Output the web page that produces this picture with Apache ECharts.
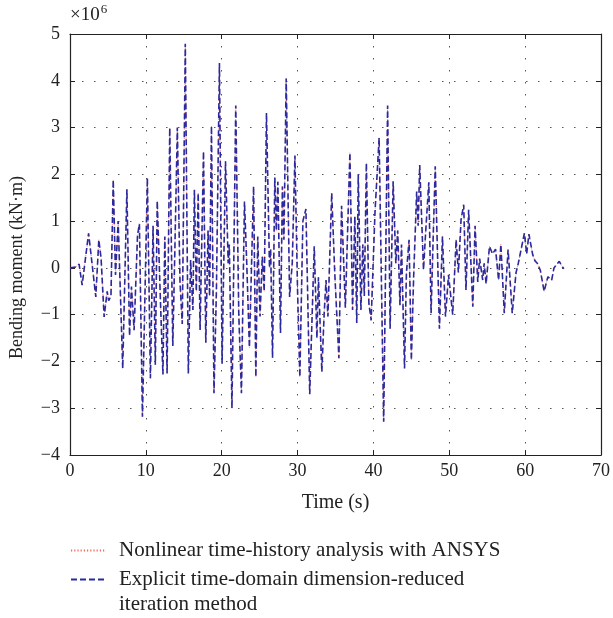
<!DOCTYPE html>
<html>
<head>
<meta charset="utf-8">
<script src="https://cdn.jsdelivr.net/npm/echarts@6/dist/echarts.min.js"></script>
<style>html,body{margin:0;padding:0;background:#fff}#c{width:613px;height:618px}</style>
</head>
<body>
<div id="c"></div>
<script>
// time (s)
var times = [0,0.8,1.2,1.6,2.45,2.9,3.4,3.8,4.1,4.5,4.9,5.1,5.4,5.7,6.0,6.35,6.95,7.5,7.85,8.1,8.45,8.9,9.15,9.55,
10.2,10.6,10.95,11.25,11.5,11.9,12.25,12.5,12.8,13.15,13.55,13.8,14.15,14.5,14.8,15.2,15.6,15.9,16.2,16.4,16.65,16.9,17.15,17.6,17.9,18.2,18.4,18.65,18.98,19.3,19.7,
20.05,20.5,20.85,21.0,21.35,21.85,22.25,22.6,23.0,23.3,23.65,24.2,24.5,24.75,25.05,25.35,25.6,25.9,26.3,26.45,26.7,27.0,27.2,27.4,27.75,28.0,28.2,28.5,28.95,29.3,29.65,
30.0,30.3,30.7,31.1,31.6,32.2,32.55,32.75,33.2,33.5,33.75,34.0,34.5,34.9,35.45,35.8,36.3,36.9,37.25,37.55,37.8,38.0,38.35,38.6,38.8,39.07,39.4,39.7,
40.2,40.75,41.35,41.87,42.2,42.6,42.95,43.2,43.5,43.7,44.1,44.35,44.7,45.0,45.3,45.7,45.9,46.1,46.6,46.9,47.3,47.6,47.85,48.15,48.7,49.1,49.5,49.9,
50.45,50.9,51.2,51.55,51.9,52.2,52.55,53.1,53.4,53.75,54.0,54.4,54.6,54.85,55.3,55.7,56.1,56.5,56.8,57.25,57.75,58.3,58.8,59.1,59.9,
60.2,60.5,61.0,61.3,61.6,62.0,62.5,63.0,63.5,63.8,64.5,64.8,65.1];
// bending moment (x10^6 kN·m), explicit time-domain dimension-reduced iteration method
var explicitVals = [0,0.02,0.08,-0.37,0.74,0.1,-0.62,0.6,0.2,-1.05,-0.5,-0.7,-0.6,1.88,-0.15,1.0,-2.15,1.68,-1.45,-0.4,-1.33,0.7,0.94,-3.18,
1.92,-2.36,0.9,-2.07,1.43,-0.6,-2.28,0.67,-2.26,2.99,-1.67,0.2,3.0,-0.3,-1.2,4.79,-2.26,0.17,-0.9,1.67,-0.5,1.6,-1.33,2.49,-1.6,0.8,-0.6,3.03,-2.68,-0.5,4.38,
-2.05,2.28,0.1,0.5,-3.0,3.47,-1.0,-2.68,1.42,0.1,-1.7,1.74,-2.33,0.67,-1.04,0.24,-0.5,3.31,0.0,0.4,-1.92,1.93,0.8,1.84,-1.39,1.74,0.6,4.05,-0.62,0.1,2.4,
-0.5,-2.33,1.0,1.26,-2.7,0.46,-1.5,-0.2,-2.22,-1.0,-0.26,-1.04,1.6,-0.1,-1.93,1.33,-0.85,2.46,-0.9,1.1,-1.18,2.0,-0.9,0.5,-0.6,2.24,-0.76,-1.12,
1.17,2.78,-3.29,3.47,-1.3,1.85,0.1,0.8,-0.8,0.5,-2.15,-0.1,0.6,-1.97,-0.2,1.63,0.9,2.2,-0.04,0.8,1.83,-0.97,0.5,2.17,-1.3,0.67,-1.04,-0.15,
-1.0,0.6,-0.1,1.03,1.35,-0.47,1.24,-0.83,0.9,-0.3,0.2,-0.26,0.1,-0.34,0.46,0.3,0.4,-0.26,0.5,-0.97,0.39,-0.97,-0.1,0.1,0.74,
0.3,0.72,0.28,0.15,0.1,-0.05,-0.5,-0.19,-0.26,0.0,0.14,0.05,-0.02];
// nonlinear time-history analysis with ANSYS (visually identical to the explicit method)
var ansysVals = explicitVals.slice();

var xTicks = [0,10,20,30,40,50,60,70];
var yTicks = [-4,-3,-2,-1,0,1,2,3,4,5];
var nameAnsys = 'Nonlinear time-history analysis with ANSYS';
var nameExplicit = 'Explicit time-domain dimension-reduced\niteration method';

var serif = '"Liberation Serif","DejaVu Serif",serif';
function pairs(v){ return times.map(function(t,i){ return [t, v[i]]; }); }

var chart = echarts.init(document.getElementById('c'), null, {renderer:'canvas'});
var axisLine = {show:true, onZero:false, lineStyle:{color:'#222', width:1.2}};
var tick = {inside:true, length:5, lineStyle:{color:'#222'}};
var dotted = {show:true, lineStyle:{color:'#555', width:1, type:[1.5,10.5]}};
var xMin = xTicks[0], xMax = xTicks[xTicks.length-1], yMin = yTicks[0], yMax = yTicks[yTicks.length-1];
var legendBase = {
  orient:'vertical', left:65, itemWidth:35, itemHeight:12,
  itemStyle:{opacity:0}, selectedMode:false
};
chart.setOption({
  animation:false,
  grid:{left:70, right:10, top:34, bottom:163},
  xAxis:[{
    type:'value', min:xMin, max:xMax, interval:10,
    name:'Time (s)', nameLocation:'middle', nameGap:38,
    nameTextStyle:{fontFamily:serif, fontSize:20, color:'#222'},
    axisLine:axisLine, axisTick:tick,
    axisLabel:{fontFamily:serif, fontSize:18, color:'#222', margin:7},
    splitLine:dotted
  },{
    type:'value', position:'top', min:xMin, max:xMax, interval:10,
    axisLine:axisLine, axisTick:tick, axisLabel:{show:false}, splitLine:{show:false}
  }],
  yAxis:[{
    type:'value', min:yMin, max:yMax, interval:1,
    name:'Bending moment (kN·m)', nameLocation:'middle', nameGap:44,
    nameTextStyle:{fontFamily:serif, fontSize:18, color:'#222', padding:[0,46,0,0]},
    axisLine:axisLine, axisTick:tick,
    axisLabel:{fontFamily:serif, fontSize:18, color:'#222', margin:10,
      formatter:function(v){ return String(v).replace('-', '\u2212'); }},
    splitLine:dotted
  },{
    type:'value', position:'right', min:yMin, max:yMax, interval:1,
    axisLine:axisLine, axisTick:tick, axisLabel:{show:false}, splitLine:{show:false}
  }],
  legend:[
    Object.assign({}, legendBase, {top:533, data:[nameAnsys],
      textStyle:{fontFamily:serif, fontSize:21, color:'#222', lineHeight:25, padding:[0,0,0,8]}}),
    Object.assign({}, legendBase, {top:537, data:[nameExplicit],
      formatter:function(n){ return '\n' + n; },
      textStyle:{fontFamily:serif, fontSize:21, color:'#222', lineHeight:25, padding:[0,0,0,8]}})
  ],
  graphic:[{
    type:'text', left:70, top:3,
    style:{text:'×10{s|6}', fontFamily:serif, fontSize:19, fill:'#222',
      rich:{s:{fontFamily:serif, fontSize:13, fill:'#222', verticalAlign:'top', padding:[0,0,12,1]}}}
  }],
  series:[{
    name:nameAnsys, type:'line', data:pairs(ansysVals),
    showSymbol:false, symbol:'none', xAxisIndex:0, yAxisIndex:0,
    lineStyle:{color:'#f06a5a', width:0.8, type:[1.2,2]}, itemStyle:{color:'#f06a5a'}
  },{
    name:nameExplicit, type:'line', data:pairs(explicitVals),
    showSymbol:false, symbol:'none', xAxisIndex:0, yAxisIndex:0,
    lineStyle:{color:'#2a2a9e', width:1.6, type:[6,3]}, itemStyle:{color:'#2a2a9e'}
  }]
});
</script>
</body>
</html>
